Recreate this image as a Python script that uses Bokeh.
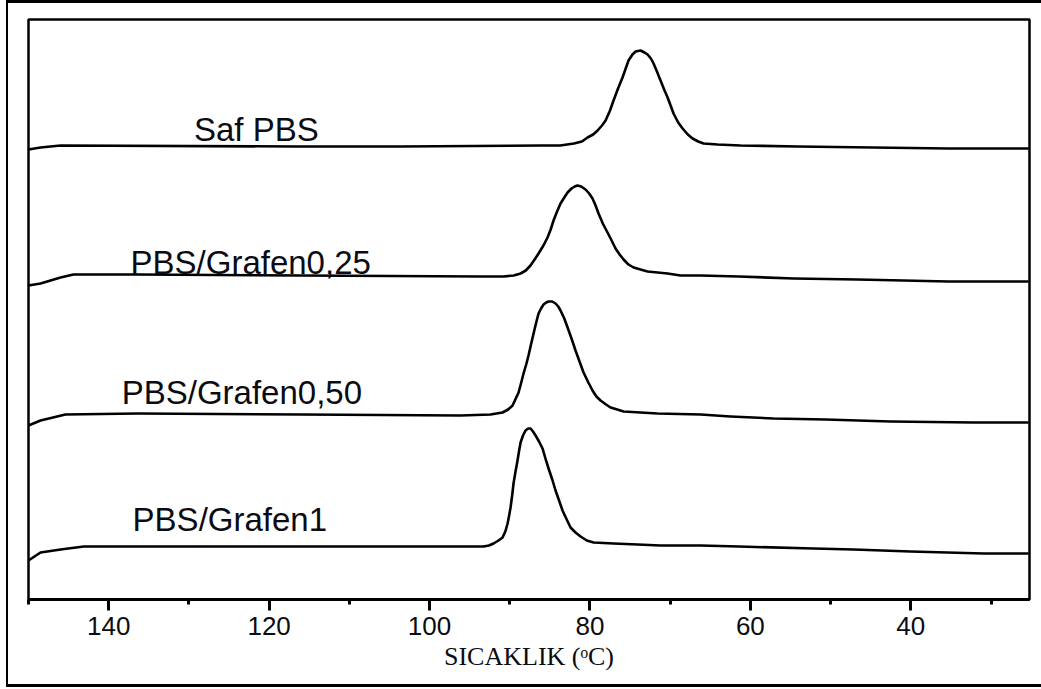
from bokeh.plotting import figure
from bokeh.models import Range1d, SingleIntervalTicker, ColumnDataSource
from bokeh.core.properties import value
from bokeh.embed import file_html
from bokeh.resources import INLINE

# DSC cooling scans: temperature (°C) and stacked heat flow (a.u.)
saf_T = [150.0, 148.5, 146.0, 116.5, 103.6, 86.0, 83.7, 82.0, 81.0, 80.3, 79.6, 79.05,
         78.5, 78.05, 77.5, 77.06, 76.5, 75.94, 75.5, 75.19, 74.7, 74.31, 73.69, 73.2,
         72.82, 72.4, 72.07, 71.6, 71.2, 70.7, 70.32, 69.9, 69.58, 69.0, 68.45, 67.8,
         67.21, 66.5, 65.84, 64.09, 61.22, 54.1, 35.3, 25.3]
saf_H = [450, 452, 454, 453, 453, 454, 454, 456, 458, 462, 465, 469,
         474, 479, 489, 499, 511, 522, 532, 539, 545, 548, 549, 547,
         545, 541, 536, 527, 519, 509, 502, 493, 486, 477, 471, 465,
         461, 458, 456, 455, 454, 453, 451, 451]

g025_T = [150.0, 148.5, 146.0, 144.4, 136.4, 116.1, 93.64, 90.77, 89.5, 88.65, 88.0, 87.41,
          86.9, 86.41, 85.8, 85.29, 84.9, 84.54, 84.1, 83.67, 83.2, 82.79, 82.3, 81.9,
          81.55, 81.1, 80.55, 80.1, 79.68, 79.3, 78.93, 78.4, 77.81, 77.3, 76.81, 76.3,
          75.81, 75.2, 74.56, 73.7, 72.82, 70.32, 68.70, 66.21, 61.47, 54.61, 46.63, 35.29,
          25.31]
g025_H = [314, 316, 322, 325, 325, 324, 323, 323, 324, 326, 329, 334,
          340, 346, 354, 362, 370, 379, 388, 396, 402, 407, 411, 413,
          414, 413, 410, 406, 401, 394, 386, 376, 367, 359, 351, 345,
          340, 335, 332, 330, 328, 326, 324, 324, 323, 321, 320, 318,
          318]

g050_T = [150.0, 148.5, 145.4, 136.4, 116.0, 96.13, 92.39, 90.90, 90.2, 89.65, 89.3, 88.90,
          88.6, 88.28, 87.95, 87.66, 87.35, 87.03, 86.7, 86.41, 86.1, 85.79, 85.45, 85.16,
          84.7, 84.29, 83.95, 83.67, 83.2, 82.79, 82.3, 81.80, 81.3, 80.80, 80.2, 79.68,
          79.2, 78.68, 78.0, 77.43, 76.6, 75.81, 73.69, 71.57, 66.2, 62.47, 57.11, 50.62,
          42.52, 32.17, 25.31]
g050_H = [174, 179, 185, 186, 185, 184, 185, 187, 190, 194, 200, 207,
          216, 226, 235, 244, 255, 266, 277, 286, 291, 295, 297, 298,
          298, 296, 293, 289, 281, 272, 261, 249, 238, 227, 217, 209,
          203, 199, 195, 192, 190, 188, 187, 186, 185, 183, 181, 180,
          178, 177, 177]

g1_T = [150.0, 148.5, 146.0, 143.1, 96.13, 93.27, 92.6, 92.02, 91.4, 90.90, 90.55, 90.27,
        90.1, 89.90, 89.7, 89.53, 89.28, 89.03, 88.85, 88.65, 88.35, 88.03, 87.7, 87.41,
        87.1, 86.78, 86.35, 85.91, 85.55, 85.16, 84.7, 84.29, 83.85, 83.42, 82.9, 82.42,
        81.8, 81.17, 80.4, 79.55, 77.06, 74.06, 71.20, 66.2, 61.47, 52.12, 47.13, 40.02,
        30.92, 25.31]
g1_H = [39, 47, 50, 53, 53, 53, 54, 56, 59, 62, 68, 76,
        83, 92, 104, 116, 128, 139, 148, 157, 164, 169, 171, 171,
        168, 164, 158, 151, 141, 131, 120, 109, 99, 89, 80, 72,
        67, 63, 59, 57, 56, 55, 54, 54, 53, 51, 50, 48,
        46, 46]

# Sample names written beside each trace
label_text = ["Saf PBS", "PBS/Grafen0,25", "PBS/Grafen0,50", "PBS/Grafen1"]
label_T = [121.6, 122.3, 123.4, 124.9]
label_H = [470, 337, 207, 80]

x_title = "SICAKLIK (ᵒC)"
x_min, x_max = 25.2, 150.0
h_min, h_max = 0, 580

p = figure(
    frame_width=1001, frame_height=580,
    x_range=Range1d(x_max, x_min), y_range=Range1d(h_min, h_max),
    y_axis_location=None,
    output_backend="svg", toolbar_location=None,
    min_border_left=20, min_border_right=12, min_border_top=16, min_border_bottom=85,
)
p.styles = {
    "margin-left": "6px",
    "border-left": "2px solid #000",
    "border-top": "3px solid #000",
    "border-bottom": "3px solid #000",
}

p.xgrid.visible = False
p.ygrid.visible = False
p.background_fill_color = "white"
p.border_fill_color = "white"
p.outline_line_color = "black"
p.outline_line_width = 2.5

for T, H in [(saf_T, saf_H), (g025_T, g025_H), (g050_T, g050_H), (g1_T, g1_H)]:
    p.line(T, H, line_color="black", line_width=2.6, line_join="round")

labels = ColumnDataSource(dict(x=label_T, y=label_H, text=label_text))
p.text(x="x", y="y", text="text", source=labels,
       text_font=value("Liberation Sans"), text_font_size=value("33px"),
       text_color="#0b0b12", text_align="center", text_baseline="alphabetic")

ax = p.xaxis[0]
ax.ticker = SingleIntervalTicker(interval=20, num_minor_ticks=2)
ax.axis_line_width = 3
ax.axis_line_color = "black"
ax.major_tick_line_width = 3
ax.major_tick_line_color = "black"
ax.major_tick_in = 0
ax.major_tick_out = 11
ax.minor_tick_line_width = 3
ax.minor_tick_line_color = "black"
ax.minor_tick_in = 0
ax.minor_tick_out = 5
ax.major_label_text_font = "Liberation Sans"
ax.major_label_text_font_size = "26px"
ax.major_label_text_color = "#0b0b12"
ax.major_label_standoff = 6
ax.axis_label = x_title
ax.axis_label_text_font = "Liberation Serif"
ax.axis_label_text_font_size = "26px"
ax.axis_label_text_font_style = "normal"
ax.axis_label_text_color = "#0b0b12"
ax.axis_label_standoff = 4

open("out.html", "w").write(file_html(p, INLINE))
